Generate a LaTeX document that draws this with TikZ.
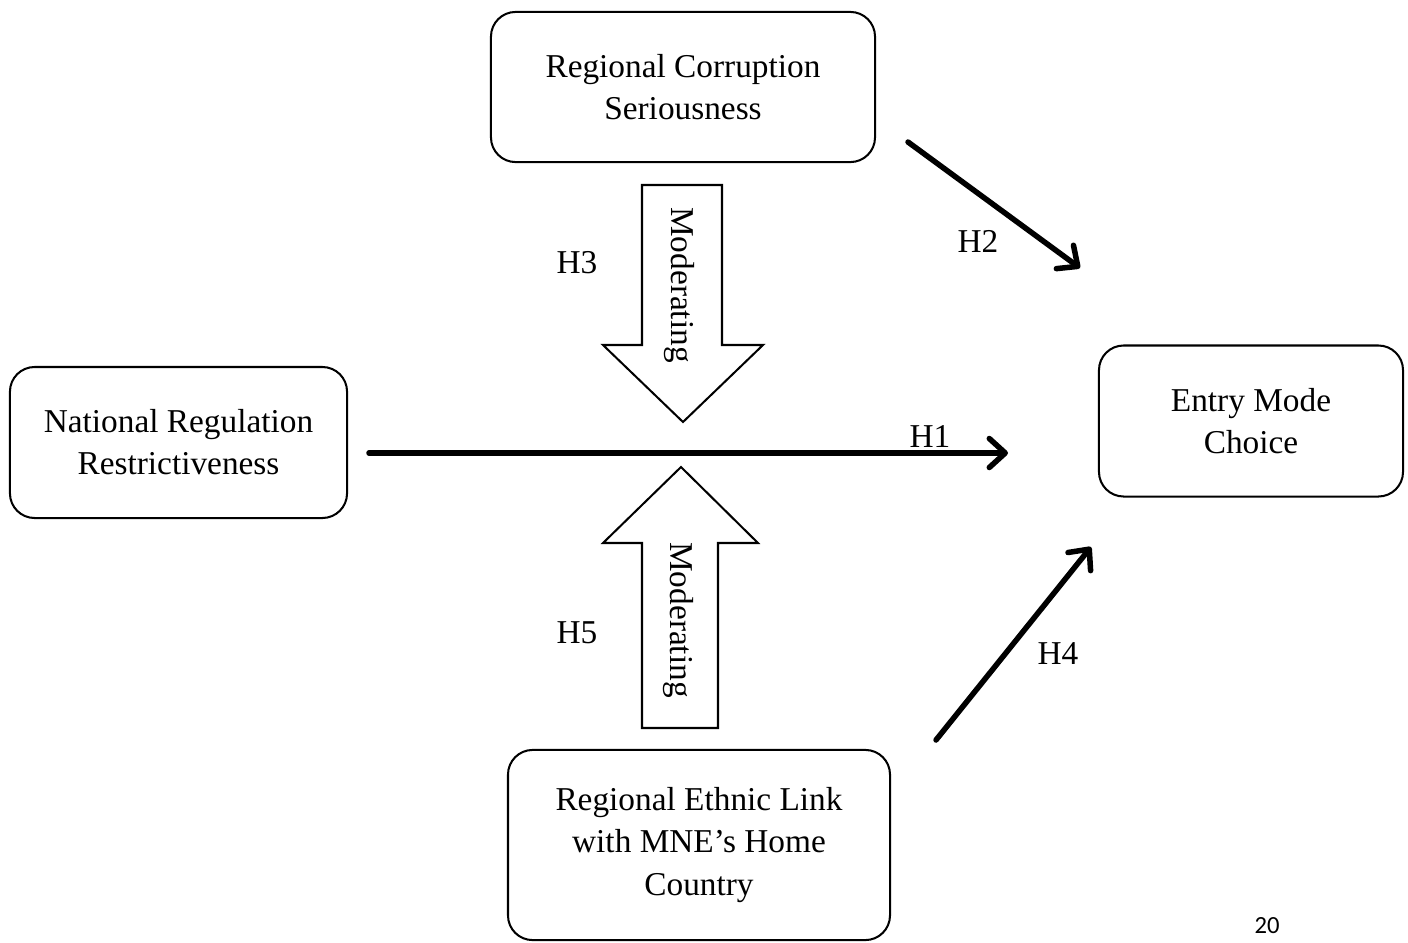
\documentclass[tikz,border=0pt]{standalone}
\usepackage{fontspec}
\setmainfont{Liberation Serif}
\newfontfamily\pagefont{Carlito}
\usetikzlibrary{arrows.meta}
\tikzset{
  box/.style={draw, line width=0.7pt, rounded corners=8.5pt, align=center, inner sep=0pt,
    font=\fontsize{11.5}{14.5}\selectfont},
  hyp/.style={->, line width=1.9pt, line cap=round},
  lab/.style={font=\fontsize{11.5}{14.5}\selectfont},
  blockarrow/.style={draw, line width=0.7pt, fill=white, line join=miter},
}
\begin{document}
\begin{tikzpicture}[x=0.345pt, y=-0.345pt, >={Straight Barb[length=5.5pt,width=10pt,line cap=round,line join=round]}]
\useasboundingbox (0,0) rectangle (1408,942);
\node[box, minimum width=132.5pt, minimum height=51.8pt] (corr) at (683,87) {Regional Corruption\\Seriousness};
\node[box, minimum width=116.3pt, minimum height=52.1pt] (nat) at (178.5,442.5) {National Regulation\\Restrictiveness};
\node[box, minimum width=104.9pt, minimum height=52.1pt] (entry) at (1251,421) {Entry Mode\\Choice};
\node[box, minimum width=131.8pt, minimum height=65.6pt] (ethnic) at (699,845) {Regional Ethnic Link\\with MNE’s Home\\Country};
\coordinate (h1s) at (369,453);
\coordinate (h1e) at (1008,453);
\coordinate (h2s) at (908,142);
\coordinate (h2e) at (1080,268);
\coordinate (h4s) at (936,740);
\coordinate (h4e) at (1091,547);
\draw[hyp] (h1s) -- (h1e);
\draw[hyp] (h2s) -- (h2e);
\draw[hyp] (h4s) -- (h4e);
\node[lab] (h1) at (930,436) {H1};
\node[lab] (h2) at (978,241) {H2};
\node[lab] (h4) at (1058,654) {H4};
\node[lab] (h3) at (577,263) {H3};
\node[lab] (h5) at (577,633) {H5};
\draw[blockarrow] (642,185) -- (722,185) -- (722,345) -- (763,345) -- (683,422) -- (603,345) -- (642,345) -- cycle;
\node[lab, rotate=-90] (modtop) at (679,285) {Moderating};
\draw[blockarrow] (642,728) -- (718,728) -- (718,543) -- (758,543) -- (681,467) -- (603,543) -- (642,543) -- cycle;
\node[lab, rotate=-90] (modbot) at (678,620) {Moderating};
\node[font=\pagefont\fontsize{8.5}{10}\selectfont] (page) at (1267,926) {20};
\end{tikzpicture}
\end{document}
